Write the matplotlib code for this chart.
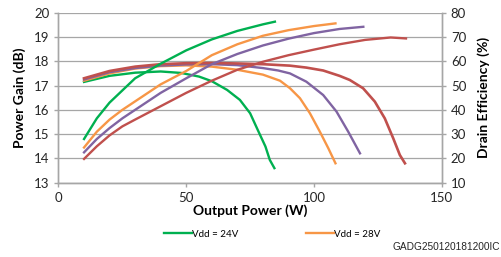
import matplotlib
matplotlib.use("Agg")
import matplotlib.pyplot as plt

plt.rcParams['font.family'] = ['Lato', 'DejaVu Sans']

# Power gain (dB) vs output power (W), one per supply voltage
gain_24_w = [10, 20, 30, 40, 48, 55, 60, 66, 71, 75, 78, 81, 82.7, 84.5]
gain_24 = [17.15, 17.4, 17.53, 17.58, 17.52, 17.37, 17.18, 16.82, 16.41, 15.86, 15.17, 14.49,
           13.94, 13.6]
gain_28_w = [10, 20, 30, 40, 50, 60, 70, 80, 86.7, 90.6, 94.5, 98.4, 102.3, 105.6, 108.4]
gain_28 = [17.2, 17.5, 17.7, 17.8, 17.83, 17.78, 17.65, 17.45, 17.2, 16.89, 16.48, 15.86, 15.1,
           14.42, 13.8]
gain_32_w = [10, 20, 30, 40, 50, 60, 70, 80, 86, 90.6, 97, 103.6, 108.8, 113.4, 118]
gain_32 = [17.25, 17.55, 17.72, 17.82, 17.87, 17.88, 17.84, 17.72, 17.62, 17.5, 17.16, 16.61,
           15.93, 15.1, 14.21]
gain_36_w = [10, 20, 30, 40, 50, 60, 70, 80, 90.6, 97, 103.6, 110, 114, 119.2, 123.8, 127.7,
             131, 133.6, 135.6]
gain_36 = [17.3, 17.6, 17.78, 17.88, 17.92, 17.93, 17.91, 17.88, 17.82, 17.74, 17.62, 17.4,
           17.23, 16.89, 16.34, 15.65, 14.83, 14.14, 13.8]

# Drain efficiency (%) vs output power (W)
eff_24_w = [10, 15, 20, 30, 40, 50, 60, 70, 80, 84.7]
eff_24 = [28, 36.5, 43, 53, 59, 64.5, 69, 72.5, 75.2, 76.3]
eff_28_w = [10, 15, 20, 25, 30, 40, 50, 60, 70, 80, 90, 100, 108.4]
eff_28 = [24.5, 31, 36, 40, 43.5, 50.5, 56, 62.5, 67, 70.5, 72.8, 74.5, 75.6]
eff_32_w = [10, 15, 20, 25, 30, 40, 50, 60, 70, 80, 90, 100, 110, 119.3]
eff_32 = [22.5, 28, 32.5, 36.5, 40, 47, 53, 58.8, 63, 66.5, 69.3, 71.6, 73.3, 74.2]
eff_36_w = [10, 15, 20, 25, 30, 40, 50, 60, 70, 80, 90, 100, 110, 120, 130, 136]
eff_36 = [19.8, 25, 29.5, 33.2, 36, 41.5, 47, 52, 56.5, 59.8, 62.5, 64.8, 67, 68.8, 69.8, 69.4]

GREEN = "#00B050"
ORANGE = "#F79646"
PURPLE = "#8064A2"
RED = "#C0504D"
GRID = "#A6A6A6"


def main():
    fig = plt.figure(figsize=(5.02, 2.57), dpi=100)
    ax = fig.add_axes([0.1165, 0.289, 0.7635, 0.6616])
    ax2 = ax.twinx()

    lw = 1.7
    l24, = ax.plot(gain_24_w, gain_24, c=GREEN, lw=lw, label="Vdd = 24V")
    l28, = ax.plot(gain_28_w, gain_28, c=ORANGE, lw=lw, label="Vdd = 28V")
    ax.plot(gain_32_w, gain_32, c=PURPLE, lw=lw)
    ax.plot(gain_36_w, gain_36, c=RED, lw=1.9)

    ax2.plot(eff_24_w, eff_24, c=GREEN, lw=lw)
    ax2.plot(eff_28_w, eff_28, c=ORANGE, lw=lw)
    ax2.plot(eff_32_w, eff_32, c=PURPLE, lw=lw)
    ax2.plot(eff_36_w, eff_36, c=RED, lw=lw)

    ax.set_xlim(0, 150)
    ax.set_ylim(13, 20)
    ax2.set_ylim(10, 80)
    ax.set_xticks([0, 50, 100, 150])
    ax.set_yticks(range(13, 21))
    ax2.set_yticks(range(10, 81, 10))

    ax.grid(axis="y", color=GRID, lw=0.9)
    ax.set_axisbelow(True)
    for a in (ax, ax2):
        a.spines["top"].set_visible(False)
        for s in ("left", "right", "bottom"):
            a.spines[s].set_color(GRID)
            a.spines[s].set_linewidth(1.0)
        a.tick_params(colors=GRID, labelcolor="#262626", labelsize=9.5, length=3, width=1.0)
    ax.tick_params(axis="x", pad=4)

    ax.set_xlabel("Output Power (W)", fontsize=10, fontweight="bold", labelpad=0)
    ax.set_ylabel("Power Gain (dB)", fontsize=10, fontweight="bold", labelpad=6)
    ax2.set_ylabel("Drain Efficiency (%)", fontsize=10, fontweight="bold", labelpad=8,
                   rotation=90)

    fig.legend(handles=[l24, l28], loc="center left", bbox_to_anchor=(0.318, 0.088),
               ncol=2, frameon=False, fontsize=7, handlelength=2.9, handletextpad=0.05,
               columnspacing=6.9, borderaxespad=0)
    fig.text(0.781, 0.037, "GADG250120181200IC", fontsize=7.3, family="Liberation Sans",
             color="#262626", va="center")

    fig.savefig("out.png", dpi=100)


if __name__ == "__main__":
    main()
